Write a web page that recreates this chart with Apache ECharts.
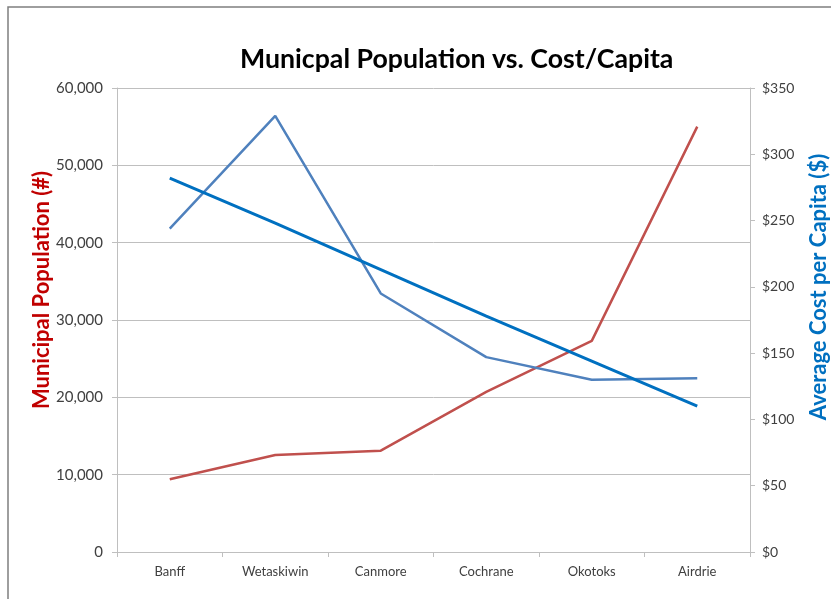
<!DOCTYPE html>
<html>
<head>
<meta charset="utf-8">
<script src="https://cdn.jsdelivr.net/npm/echarts@6/dist/echarts.min.js"></script>
<style>html,body{margin:0;padding:0;background:#fff;}#c{width:831px;height:599px;}</style>
</head>
<body>
<div id="c"></div>
<script>
const categories = ['Banff', 'Wetaskiwin', 'Canmore', 'Cochrane', 'Okotoks', 'Airdrie'];
const population = [9400, 12550, 13100, 20700, 27300, 55000];
const costPerCapita = [244, 329, 195, 147, 130, 131];
const costTrend = [282, 248, 213, 178, 144, 110];

const chart = echarts.init(document.getElementById('c'));
const axisGray = '#bfbfbf';
const labelColor = '#404040';
const font = 'Lato, Calibri, "Liberation Sans", sans-serif';

chart.setOption({
  animation: false,
  textStyle: { fontFamily: font },
  graphic: [{
    type: 'rect', shape: { x: 8, y: 7, width: 900, height: 700 },
    style: { fill: 'none', stroke: '#7f7f7f', lineWidth: 1.5 }, silent: true
  }],
  title: {
    text: 'Municpal Population vs. Cost/Capita',
    left: 235, top: 41,
    textStyle: { fontFamily: font, fontSize: 26.7, fontWeight: 'bold', color: '#000' }
  },
  grid: { left: 117, right: 81, top: 88, bottom: 47, outerBoundsMode: 'none', containLabel: false },
  xAxis: {
    type: 'category', data: categories, boundaryGap: true,
    axisLine: { lineStyle: { color: axisGray } },
    axisTick: { show: true, length: 5, lineStyle: { color: axisGray } },
    axisLabel: { color: labelColor, fontSize: 13, margin: 13 }
  },
  yAxis: [{
    type: 'value', min: 0, max: 60000, interval: 10000,
    name: 'Municipal Population (#)', nameLocation: 'middle', nameGap: 64,
    nameMoveOverlap: false,
    nameTextStyle: { color: '#c00000', fontSize: 22, fontWeight: 'bold', fontFamily: font,
      padding: [0, 0, 0, 60] },
    axisLine: { show: true, lineStyle: { color: axisGray } },
    axisTick: { show: true, length: 5, lineStyle: { color: axisGray } },
    axisLabel: { color: labelColor, fontSize: 15, margin: 14,
      formatter: v => v.toLocaleString('en-US') },
    splitLine: { lineStyle: { color: axisGray } }
  }, {
    type: 'value', min: 0, max: 350, interval: 50, position: 'right',
    name: 'Average Cost per Capita ($)', nameLocation: 'middle', nameGap: 58,
    nameRotate: 90, nameMoveOverlap: false,
    nameTextStyle: { color: '#0070c0', fontSize: 22, fontWeight: 'bold', fontFamily: font,
      padding: [0, 0, 0, 66] },
    axisLine: { show: true, lineStyle: { color: axisGray } },
    axisTick: { show: true, length: 5, lineStyle: { color: axisGray } },
    axisLabel: { color: labelColor, fontSize: 14, margin: 12, formatter: v => '$' + v },
    splitLine: { show: false }
  }],
  series: [{
    name: 'Population', type: 'line', data: population, yAxisIndex: 0,
    symbol: 'none', lineStyle: { color: '#c0504d', width: 2.5 }, itemStyle: { color: '#c0504d' }
  }, {
    name: 'Cost per Capita', type: 'line', data: costPerCapita, yAxisIndex: 1,
    symbol: 'none', lineStyle: { color: '#4f81bd', width: 2.5 }, itemStyle: { color: '#4f81bd' }
  }, {
    name: 'Trend', type: 'line', data: costTrend, yAxisIndex: 1,
    symbol: 'none', lineStyle: { color: '#0070c0', width: 3 }, itemStyle: { color: '#0070c0' }
  }]
});
</script>
</body>
</html>
